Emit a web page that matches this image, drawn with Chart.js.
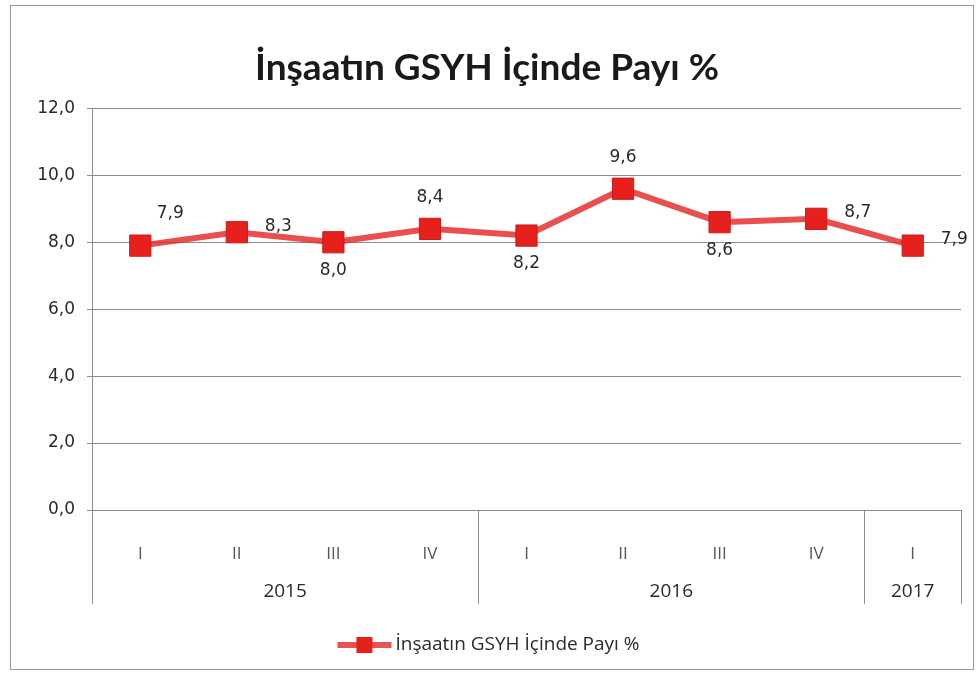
<!DOCTYPE html>
<html>
<head>
<meta charset="utf-8">
<script src="https://cdn.jsdelivr.net/npm/chart.js@4/dist/chart.umd.min.js"></script>
<style>
  html, body { margin: 0; padding: 0; background: #ffffff; }
  #wrap { width: 977px; height: 684px; }
</style>
</head>
<body>
<div id="wrap"><canvas id="c" width="977" height="684"></canvas></div>
<script>
// ---- data ----
const titleText = 'İnşaatın GSYH İçinde Payı %';
const seriesName = 'İnşaatın GSYH İçinde Payı %';
const quarters = ['I', 'II', 'III', 'IV', 'I', 'II', 'III', 'IV', 'I'];
const years = ['2015', '2016', '2017'];
const yearSpans = [4, 4, 1];
const shares = [7.9, 8.3, 8.0, 8.4, 8.2, 9.6, 8.6, 8.7, 7.9];
const yTicks = [0, 2, 4, 6, 8, 10, 12];

// ---- styles ----
const labelPos = ['aboveRight', 'right', 'below', 'above', 'below', 'above', 'below', 'right', 'right'];
const RED = '#e5201d';
const GRID = '#8c8c8c';
const fmt = v => v.toFixed(1).replace('.', ',');

const frame = {
  id: 'frame',
  beforeDraw(chart) {
    const ctx = chart.ctx;
    ctx.save();
    ctx.fillStyle = '#ffffff';
    ctx.fillRect(0, 0, chart.width, chart.height);
    ctx.strokeStyle = '#9a9a9a';
    ctx.lineWidth = 1;
    ctx.strokeRect(10.5, 5.5, 963, 664);
    ctx.restore();
  }
};

const twoLevelAxis = {
  id: 'twoLevelAxis',
  afterDraw(chart) {
    const ctx = chart.ctx;
    const xs = chart.scales.x;
    const area = chart.chartArea;
    const half = (xs.getPixelForValue(1) - xs.getPixelForValue(0)) / 2;
    const top = area.bottom;
    const bottom = area.bottom + 94;
    ctx.save();
    ctx.strokeStyle = GRID;
    ctx.lineWidth = 1;
    let idx = 0;
    const bounds = [xs.getPixelForValue(0) - half];
    yearSpans.forEach(s => { idx += s; bounds.push(xs.getPixelForValue(idx - 1) + half); });
    bounds.forEach(b => {
      const x = Math.round(b) + 0.5;
      ctx.beginPath(); ctx.moveTo(x, top); ctx.lineTo(x, bottom); ctx.stroke();
    });
    ctx.fillStyle = '#2a2a2a';
    ctx.font = '19px "Open Sans", sans-serif';
    ctx.textAlign = 'center';
    ctx.textBaseline = 'middle';
    idx = 0;
    years.forEach((y, i) => {
      const a = xs.getPixelForValue(idx);
      const b2 = xs.getPixelForValue(idx + yearSpans[i] - 1);
      ctx.fillText(y, (a + b2) / 2, area.bottom + 82);
      idx += yearSpans[i];
    });
    ctx.restore();
  }
};

const dataLabels = {
  id: 'dataLabels',
  afterDatasetsDraw(chart) {
    const ctx = chart.ctx;
    const meta = chart.getDatasetMeta(0);
    ctx.save();
    ctx.fillStyle = '#2a2a2a';
    ctx.font = '17px "DejaVu Sans", sans-serif';
    ctx.textBaseline = 'middle';
    meta.data.forEach((pt, i) => {
      const t = fmt(shares[i]);
      let x = pt.x, y = pt.y;
      ctx.textAlign = 'center';
      switch (labelPos[i]) {
        case 'above': y -= 31; break;
        case 'below': y += 28; break;
        case 'right': ctx.textAlign = 'left'; x += 28; y -= 6; break;
        case 'aboveRight': x += 30; y -= 32; break;
      }
      ctx.fillText(t, x, y);
    });
    ctx.restore();
  }
};

const customLegend = {
  id: 'customLegend',
  afterDraw(chart) {
    const ctx = chart.ctx;
    ctx.save();
    ctx.font = '19px "Open Sans", sans-serif';
    const text = seriesName;
    const tw = ctx.measureText(text).width;
    const lineW = 54;
    const total = lineW + 4 + tw;
    const x0 = (chart.width - total) / 2;
    const y = 645;
    ctx.strokeStyle = 'rgba(229,40,40,0.8)';
    ctx.lineWidth = 6;
    ctx.beginPath(); ctx.moveTo(x0, y); ctx.lineTo(x0 + lineW, y); ctx.stroke();
    ctx.fillStyle = RED;
    ctx.fillRect(x0 + lineW / 2 - 8, y - 8, 16, 16);
    ctx.fillStyle = '#2a2a2a';
    ctx.textBaseline = 'middle';
    ctx.textAlign = 'left';
    ctx.fillText(text, x0 + lineW + 4, y);
    ctx.restore();
  }
};

new Chart(document.getElementById('c'), {
  type: 'line',
  data: {
    labels: quarters,
    datasets: [{
      label: seriesName,
      data: shares,
      borderColor: 'rgba(229,40,40,0.82)',
      borderWidth: 6,
      pointStyle: 'rect',
      pointRadius: 15,
      pointBackgroundColor: RED,
      pointBorderColor: '#cc1a18',
      pointBorderWidth: 1,
      tension: 0
    }]
  },
  options: {
    responsive: false,
    animation: false,
    devicePixelRatio: 1,
    layout: { padding: { left: 12, right: 15, top: 10, bottom: 79 } },
    plugins: {
      legend: { display: false },
      tooltip: { enabled: false },
      title: {
        display: true,
        text: titleText,
        color: '#1a1a1a',
        font: { family: 'Lato', size: 37, weight: 'bold' },
        padding: { top: 36, bottom: 18 }
      }
    },
    scales: {
      x: {
        offset: true,
        grid: { display: false, offset: true },
        border: { display: true, color: GRID },
        ticks: {
          color: '#555',
          font: { family: '"Open Sans", sans-serif', size: 17 },
          padding: 26,
          maxRotation: 0,
          autoSkip: false
        },
        afterFit(s) { s.height = 95; }
      },
      y: {
        min: 0,
        max: 12,
        afterBuildTicks(s) { s.ticks = yTicks.map(v => ({ value: v })); },
        grid: { color: GRID, tickLength: 5 },
        border: { display: true, color: GRID },
        ticks: {
          color: '#2a2a2a',
          font: { family: '"DejaVu Sans", sans-serif', size: 17 },
          padding: 12,
          callback: v => fmt(v)
        },
        afterFit(s) { s.width = 80; }
      }
    }
  },
  plugins: [frame, twoLevelAxis, dataLabels, customLegend]
});
</script>
</body>
</html>
